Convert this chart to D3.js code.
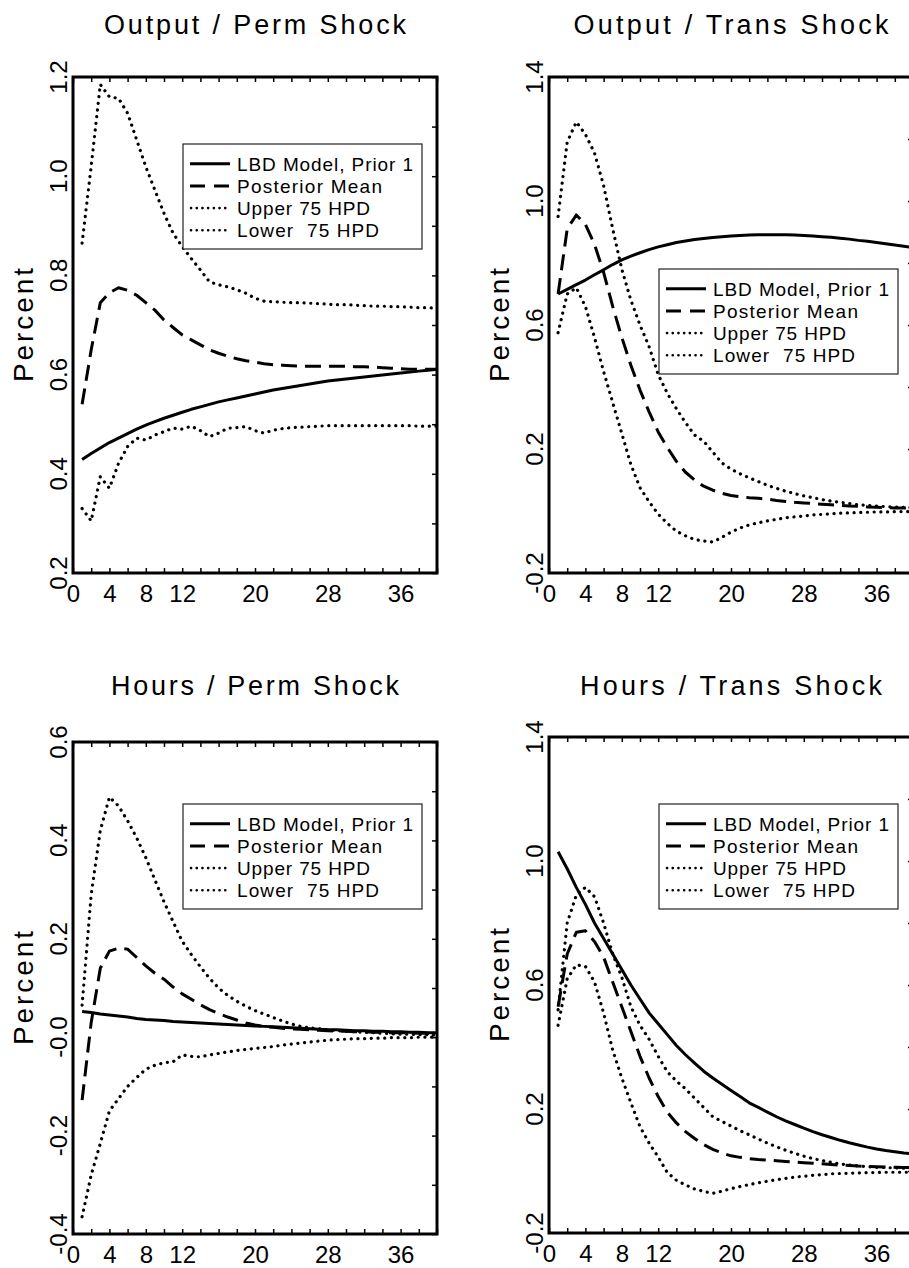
<!DOCTYPE html>
<html lang="en">
<head>
  <meta charset="UTF-8">
  <title>Impulse responses</title>
  <script src="https://d3js.org/d3.v7.min.js"></script>
  <style>
    body { margin: 0; background: #fff; }
    svg { display: block; }
    text { font-family: 'Liberation Sans', Arial, sans-serif; fill: #000; }
  </style>
</head>
<body>
  <svg id="chart" width="909" height="1268"></svg>
  <script>
    // quarters after the shock
    const periods = d3.range(1, 41);
    const xTickLabels = [0, 4, 8, 12, 20, 28, 36];
    const legendLabels = ["LBD Model, Prior 1", "Posterior Mean", "Upper 75 HPD", "Lower  75 HPD"];

    // Output / Perm Shock
    const outPermModel = [0.429, 0.441, 0.452, 0.463, 0.472, 0.481, 0.490, 0.498, 0.505, 0.512, 0.518, 0.524, 0.530, 0.535, 0.540, 0.545, 0.549, 0.553, 0.557, 0.561, 0.565, 0.569, 0.572, 0.575, 0.578, 0.581, 0.584, 0.587, 0.589, 0.591, 0.593, 0.595, 0.597, 0.599, 0.601, 0.603, 0.605, 0.607, 0.609, 0.611];
    const outPermMean = [0.54, 0.65, 0.745, 0.765, 0.775, 0.77, 0.76, 0.745, 0.73, 0.71, 0.695, 0.68, 0.67, 0.66, 0.65, 0.643, 0.637, 0.632, 0.628, 0.625, 0.622, 0.62, 0.619, 0.618, 0.617, 0.617, 0.617, 0.617, 0.617, 0.617, 0.616, 0.616, 0.615, 0.614, 0.613, 0.612, 0.611, 0.611, 0.611, 0.611];
    const outPermUpper = [0.865, 1.02, 1.185, 1.16, 1.157, 1.127, 1.073, 1.019, 0.972, 0.925, 0.885, 0.858, 0.834, 0.811, 0.787, 0.781, 0.777, 0.771, 0.764, 0.754, 0.748, 0.747, 0.746, 0.745, 0.745, 0.744, 0.743, 0.742, 0.741, 0.741, 0.740, 0.739, 0.738, 0.738, 0.737, 0.737, 0.736, 0.735, 0.735, 0.734];
    const outPermLower = [0.330, 0.305, 0.394, 0.371, 0.421, 0.455, 0.472, 0.468, 0.478, 0.485, 0.492, 0.490, 0.496, 0.487, 0.475, 0.482, 0.492, 0.493, 0.495, 0.487, 0.482, 0.488, 0.491, 0.493, 0.494, 0.495, 0.496, 0.497, 0.497, 0.497, 0.497, 0.497, 0.497, 0.497, 0.497, 0.497, 0.497, 0.496, 0.496, 0.496];

    // Output / Trans Shock
    const outTransModel = [0.70, 0.715, 0.73, 0.745, 0.762, 0.778, 0.795, 0.81, 0.822, 0.833, 0.843, 0.852, 0.859, 0.866, 0.871, 0.876, 0.879, 0.882, 0.885, 0.887, 0.889, 0.890, 0.891, 0.891, 0.891, 0.891, 0.890, 0.889, 0.887, 0.885, 0.883, 0.880, 0.877, 0.873, 0.870, 0.866, 0.862, 0.858, 0.854, 0.850];
    const outTransMean = [0.70, 0.91, 0.955, 0.925, 0.86, 0.77, 0.66, 0.56, 0.47, 0.39, 0.32, 0.255, 0.205, 0.16, 0.125, 0.10, 0.08, 0.067, 0.057, 0.05, 0.046, 0.043, 0.041, 0.038, 0.034, 0.031, 0.028, 0.026, 0.024, 0.022, 0.02, 0.018, 0.016, 0.015, 0.013, 0.012, 0.011, 0.01, 0.01, 0.009];
    const outTransUpper = [0.95, 1.19, 1.255, 1.215, 1.155, 1.05, 0.91, 0.78, 0.68, 0.60, 0.53, 0.44, 0.38, 0.33, 0.285, 0.245, 0.225, 0.19, 0.155, 0.135, 0.12, 0.107, 0.095, 0.083, 0.073, 0.064, 0.056, 0.049, 0.043, 0.037, 0.032, 0.028, 0.024, 0.02, 0.018, 0.016, 0.014, 0.013, 0.012, 0.011];
    const outTransLower = [0.575, 0.70, 0.72, 0.66, 0.56, 0.45, 0.35, 0.25, 0.15, 0.075, 0.03, -0.01, -0.04, -0.065, -0.08, -0.092, -0.097, -0.10, -0.085, -0.068, -0.055, -0.045, -0.038, -0.032, -0.027, -0.022, -0.019, -0.016, -0.013, -0.011, -0.009, -0.007, -0.006, -0.005, -0.004, -0.003, -0.003, -0.002, -0.002, -0.002];

    // Hours / Perm Shock
    const hrsPermModel = [0.052, 0.050, 0.047, 0.045, 0.043, 0.041, 0.038, 0.036, 0.035, 0.034, 0.032, 0.031, 0.030, 0.029, 0.028, 0.027, 0.026, 0.025, 0.024, 0.023, 0.022, 0.021, 0.020, 0.019, 0.018, 0.017, 0.016, 0.015, 0.015, 0.014, 0.013, 0.013, 0.012, 0.012, 0.011, 0.011, 0.010, 0.010, 0.009, 0.009];
    const hrsPermMean = [-0.128, 0.03, 0.14, 0.175, 0.181, 0.179, 0.162, 0.145, 0.13, 0.118, 0.102, 0.088, 0.077, 0.066, 0.056, 0.048, 0.041, 0.035, 0.029, 0.025, 0.022, 0.02, 0.018, 0.017, 0.016, 0.015, 0.014, 0.013, 0.012, 0.012, 0.011, 0.011, 0.010, 0.010, 0.009, 0.009, 0.009, 0.008, 0.008, 0.008];
    const hrsPermUpper = [0.065, 0.29, 0.42, 0.488, 0.47, 0.44, 0.405, 0.365, 0.32, 0.275, 0.235, 0.195, 0.168, 0.143, 0.12, 0.10, 0.085, 0.073, 0.063, 0.054, 0.047, 0.04, 0.033, 0.027, 0.022, 0.019, 0.017, 0.015, 0.013, 0.012, 0.011, 0.01, 0.009, 0.008, 0.007, 0.006, 0.006, 0.005, 0.005, 0.004];
    const hrsPermLower = [-0.365, -0.28, -0.216, -0.15, -0.125, -0.10, -0.082, -0.065, -0.057, -0.052, -0.05, -0.036, -0.039, -0.04, -0.036, -0.033, -0.03, -0.027, -0.025, -0.023, -0.021, -0.019, -0.016, -0.014, -0.012, -0.01, -0.008, -0.006, -0.005, -0.004, -0.003, -0.003, -0.002, -0.002, -0.001, -0.001, -0.001, 0, 0, 0];

    // Hours / Trans Shock
    const hrsTransModel = [1.03, 0.975, 0.915, 0.86, 0.80, 0.75, 0.70, 0.65, 0.60, 0.555, 0.51, 0.475, 0.44, 0.405, 0.375, 0.348, 0.322, 0.30, 0.28, 0.26, 0.24, 0.22, 0.205, 0.19, 0.175, 0.162, 0.15, 0.138, 0.127, 0.117, 0.108, 0.099, 0.091, 0.084, 0.077, 0.071, 0.066, 0.062, 0.058, 0.055];
    const hrsTransMean = [0.53, 0.70, 0.77, 0.775, 0.74, 0.69, 0.61, 0.53, 0.45, 0.37, 0.30, 0.24, 0.19, 0.155, 0.127, 0.105, 0.085, 0.07, 0.058, 0.049, 0.044, 0.04, 0.037, 0.035, 0.033, 0.031, 0.029, 0.027, 0.025, 0.023, 0.021, 0.019, 0.018, 0.016, 0.015, 0.014, 0.013, 0.012, 0.011, 0.011];
    const hrsTransUpper = [0.52, 0.80, 0.89, 0.915, 0.885, 0.80, 0.70, 0.625, 0.53, 0.47, 0.425, 0.37, 0.32, 0.29, 0.265, 0.235, 0.205, 0.175, 0.16, 0.145, 0.13, 0.117, 0.103, 0.09, 0.078, 0.067, 0.057, 0.048, 0.04, 0.034, 0.028, 0.023, 0.019, 0.016, 0.014, 0.012, 0.011, 0.01, 0.009, 0.009];
    const hrsTransLower = [0.47, 0.62, 0.665, 0.66, 0.61, 0.51, 0.39, 0.30, 0.22, 0.143, 0.09, 0.045, -0.005, -0.03, -0.045, -0.058, -0.066, -0.072, -0.065, -0.057, -0.05, -0.044, -0.038, -0.033, -0.028, -0.024, -0.02, -0.017, -0.014, -0.012, -0.009, -0.008, -0.007, -0.006, -0.005, -0.005, -0.004, -0.004, -0.004, -0.004];

    // y tick labels per panel
    const outPermTicks = [0.2, 0.4, 0.6, 0.8, 1.0, 1.2];
    const outPermTickText = ["0.2", "0.4", "0.6", "0.8", "1.0", "1.2"];
    const transTicks = [-0.2, 0.2, 0.6, 1.0, 1.4];
    const transTickText = ["-0.2", "0.2", "0.6", "1.0", "1.4"];
    const hrsPermTicks = [-0.4, -0.2, 0.0, 0.2, 0.4, 0.6];
    const hrsPermTickText = ["-0.4", "-0.2", "-0.0", "0.2", "0.4", "0.6"];

    const styles = [
      { dash: null, width: 3, cap: "butt" },
      { dash: "16 8", width: 3, cap: "butt" },
      { dash: "0.1 6.6", width: 3.2, cap: "round" },
      { dash: "0.1 6.6", width: 3.2, cap: "round" }
    ];

    const panels = [
      { title: "Output / Perm Shock", titleW: 302, titleY: 34, left: 73, top: 77, bottom: 573,
        domain: [0.2, 1.2], minor: 0.1, ticks: outPermTicks, tickText: outPermTickText,
        series: [outPermModel, outPermMean, outPermUpper, outPermLower], legendTop: 144 },
      { title: "Output / Trans Shock", titleW: 315, titleY: 34, left: 549, top: 77, bottom: 573,
        domain: [-0.2, 1.4], minor: 0.2, ticks: transTicks, tickText: transTickText,
        series: [outTransModel, outTransMean, outTransUpper, outTransLower], legendTop: 269 },
      { title: "Hours / Perm Shock", titleW: 288, titleY: 695, left: 73, top: 742, bottom: 1234,
        domain: [-0.4, 0.6], minor: 0.1, ticks: hrsPermTicks, tickText: hrsPermTickText,
        series: [hrsPermModel, hrsPermMean, hrsPermUpper, hrsPermLower], legendTop: 804 },
      { title: "Hours / Trans Shock", titleW: 302, titleY: 695, left: 549, top: 737, bottom: 1233,
        domain: [-0.2, 1.4], minor: 0.2, ticks: transTicks, tickText: transTickText,
        series: [hrsTransModel, hrsTransMean, hrsTransUpper, hrsTransLower], legendTop: 804 }
    ];

    const plotW = 364;
    const svg = d3.select("#chart");
    const legendW = [176, 145, 133, 142];

    panels.forEach(p => {
      const g = svg.append("g");
      const x = d3.scaleLinear().domain([0, 40]).range([p.left, p.left + plotW]);
      const y = d3.scaleLinear().domain(p.domain).range([p.bottom, p.top]);
      const right = p.left + plotW;

      // title
      g.append("text")
        .attr("x", p.left + plotW / 2)
        .attr("y", p.titleY)
        .attr("text-anchor", "middle")
        .attr("font-size", 27)
        .attr("textLength", p.titleW)
        .attr("lengthAdjust", "spacing")
        .text(p.title);

      // x ticks (inward, bottom and top)
      const xMinor = d3.range(0, 41, 2);
      g.append("g")
        .attr("transform", `translate(0,${p.bottom})`)
        .call(d3.axisBottom(x).tickValues(xMinor).tickSize(-5).tickFormat(""))
        .call(a => a.select(".domain").remove())
        .call(a => a.selectAll("line").attr("stroke-width", 1.5));
      g.append("g")
        .attr("transform", `translate(0,${p.top})`)
        .call(d3.axisTop(x).tickValues(xMinor).tickSize(-5).tickFormat(""))
        .call(a => a.select(".domain").remove())
        .call(a => a.selectAll("line").attr("stroke-width", 1.5));

      // x labels
      g.append("g")
        .attr("transform", `translate(0,${p.bottom})`)
        .call(d3.axisBottom(x).tickValues(xTickLabels).tickSize(0).tickFormat(d3.format("d")))
        .call(a => a.select(".domain").remove())
        .call(a => a.selectAll("text")
          .attr("y", 29).attr("dy", null)
          .attr("font-size", 24)
          .attr("font-family", "'Liberation Sans', Arial, sans-serif")
          .attr("fill", "#000"));

      // right-side inward ticks
      const nMinor = Math.round((p.domain[1] - p.domain[0]) / p.minor);
      const yMinor = d3.range(0, nMinor + 1).map(i => p.domain[0] + i * p.minor);
      g.append("g")
        .attr("transform", `translate(${right},0)`)
        .call(d3.axisRight(y).tickValues(yMinor).tickSize(-5).tickFormat(""))
        .call(a => a.select(".domain").remove())
        .call(a => a.selectAll("line").attr("stroke-width", 1.5));

      // y labels (rotated)
      p.ticks.forEach((v, i) => {
        g.append("text")
          .attr("transform", `translate(${p.left - 6},${y(v)}) rotate(-90)`)
          .attr("text-anchor", "middle")
          .attr("font-size", 24)
          .text(p.tickText[i]);
      });

      // y title
      g.append("text")
        .attr("transform", `translate(${p.left - 40},${(p.top + p.bottom) / 2}) rotate(-90)`)
        .attr("text-anchor", "middle")
        .attr("font-size", 28)
        .attr("textLength", 114)
        .attr("lengthAdjust", "spacing")
        .text("Percent");

      // series
      const line = d3.line().x((d, i) => x(periods[i])).y(d => y(d));
      p.series.forEach((s, k) => {
        g.append("path")
          .datum(s)
          .attr("d", line)
          .attr("fill", "none")
          .attr("stroke", "#000")
          .attr("stroke-width", styles[k].width)
          .attr("stroke-dasharray", styles[k].dash)
          .attr("stroke-linecap", styles[k].cap)
          .attr("stroke-linejoin", "round");
      });

      // frame
      g.append("rect")
        .attr("x", p.left).attr("y", p.top)
        .attr("width", plotW).attr("height", p.bottom - p.top)
        .attr("fill", "none").attr("stroke", "#000").attr("stroke-width", 3);

      // legend
      const lx = p.left + 110, ly = p.legendTop;
      const lg = g.append("g").attr("transform", `translate(${lx},${ly})`);
      lg.append("rect")
        .attr("width", 239).attr("height", 105)
        .attr("fill", "#fff").attr("stroke", "#222").attr("stroke-width", 1.2);
      legendLabels.forEach((lab, k) => {
        const by = 26.7 + k * 22.2;
        lg.append("line")
          .attr("x1", k > 1 ? 8 : 7).attr("x2", 47)
          .attr("y1", by - 7).attr("y2", by - 7)
          .attr("stroke", "#000")
          .attr("stroke-width", k > 1 ? 2.6 : styles[k].width)
          .attr("stroke-dasharray", k === 1 ? "15 9" : (k > 1 ? "0.1 5.6" : null))
          .attr("stroke-linecap", styles[k].cap);
        lg.append("text")
          .attr("x", 54).attr("y", by)
          .attr("font-size", 19)
          .attr("textLength", legendW[k])
          .attr("lengthAdjust", "spacing")
          .style("white-space", "pre")
          .text(lab);
      });
    });
  </script>
</body>
</html>
